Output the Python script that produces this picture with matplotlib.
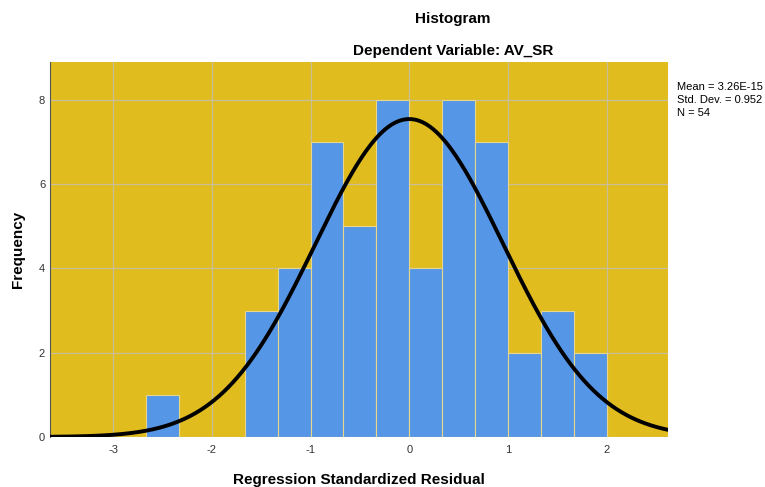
import numpy as np
import matplotlib
matplotlib.use("Agg")
import matplotlib.pyplot as plt

# histogram of regression standardized residuals
bin_left = [-2.667, -1.667, -1.333, -1.0, -0.667, -0.333, 0.0, 0.333, 0.667, 1.0, 1.333, 1.667]
counts = [1, 3, 4, 7, 5, 8, 4, 8, 7, 2, 3, 2]
bin_width = 1 / 3
mean = 3.26e-15
std = 0.952
n = 54
stats_lines = ["Mean = 3.26E-15", "Std. Dev. = 0.952", "N = 54"]
xticks = [-3, -2, -1, 0, 1, 2]
yticks = [0, 2, 4, 6, 8]

plt.rcParams['font.family'] = ['Liberation Sans', 'DejaVu Sans']
plt.rcParams['axes.unicode_minus'] = False

fig = plt.figure(figsize=(7.65, 4.87), dpi=100)
ax = fig.add_axes([0.0654, 0.1027, 0.8076, 0.7703])

ax.set_facecolor("#E0BC1F")
ax.bar(bin_left, counts, width=bin_width, align="edge", color="#5596E6",
       edgecolor="#E8D68A", linewidth=0.8, zorder=2)

# fitted normal curve
xs = np.linspace(-3.64, 2.62, 400)
ys = n * bin_width * np.exp(-0.5 * ((xs - mean) / std) ** 2) / (std * np.sqrt(2 * np.pi))
ax.plot(xs, ys, color="black", lw=2.8, zorder=3)

ax.set_xlim(-3.64, 2.62)
ax.set_ylim(0, 8.9)
ax.set_xticks(xticks)
ax.set_yticks(yticks)
ax.tick_params(labelsize=8, length=0, colors="#333333")
ax.tick_params(axis="x", pad=6)
ax.grid(True, color="#C9BE98", lw=0.9, zorder=1)
ax.set_axisbelow(True)
for s in ["top", "right", "bottom"]:
    ax.spines[s].set_visible(False)
ax.spines["left"].set_color("#555555")

ax.set_xlabel("Regression Standardized Residual", fontsize=11, fontweight="bold", labelpad=13)
ax.set_ylabel("Frequency", fontsize=11, fontweight="bold", labelpad=10)

fig.text(0.592, 0.961, "Histogram", ha="center", va="center", fontsize=11, fontweight="bold")
fig.text(0.592, 0.895, "Dependent Variable: AV_SR", ha="center", va="center", fontsize=11, fontweight="bold")
fig.text(0.885, 0.795, "\n".join(stats_lines), ha="left", va="center", fontsize=8, linespacing=1.35)

fig.savefig("out.png", dpi=100)
